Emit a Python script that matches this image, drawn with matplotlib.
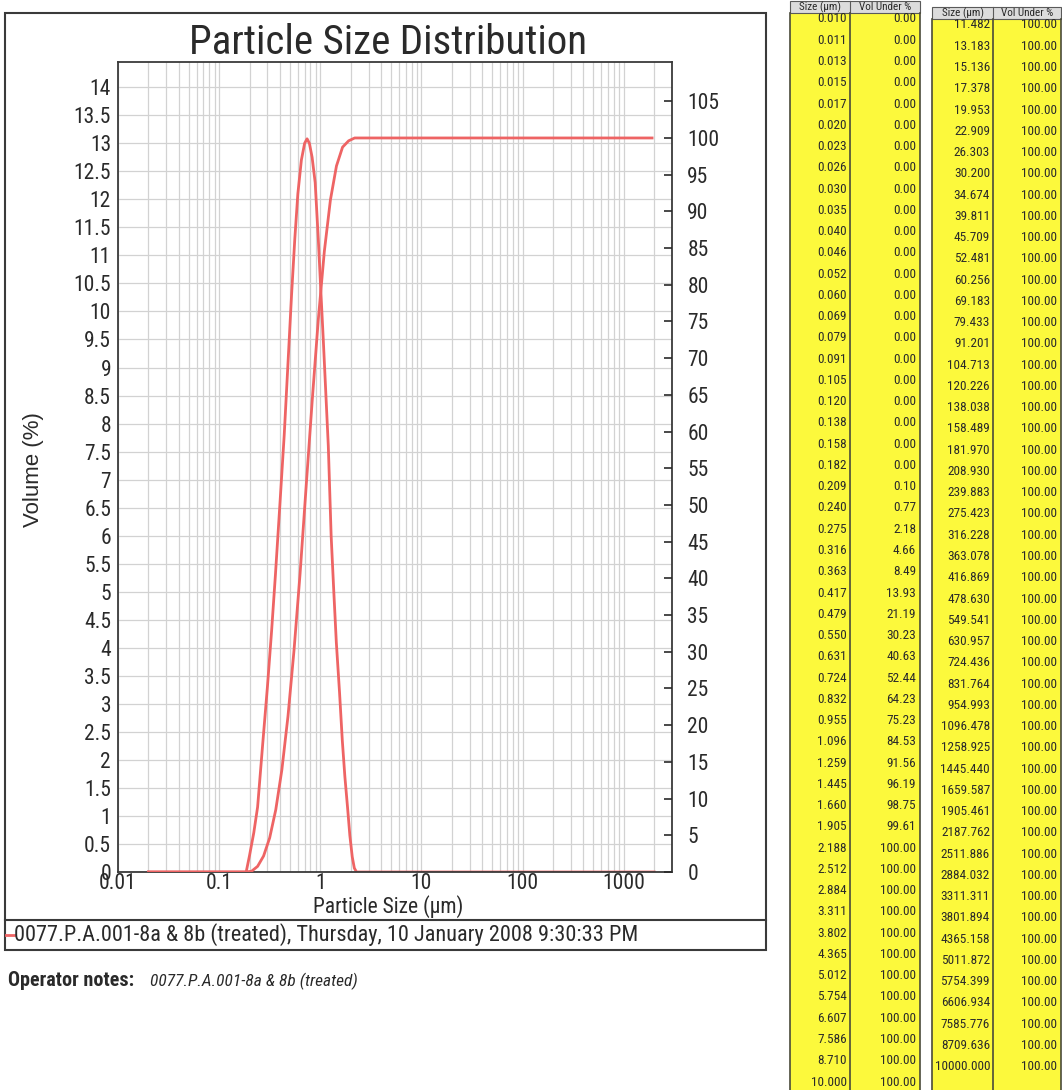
import matplotlib
matplotlib.use('Agg')
import matplotlib.pyplot as plt
from matplotlib import font_manager
from matplotlib.font_manager import FontProperties
from matplotlib.patches import Rectangle
from matplotlib.lines import Line2D
from matplotlib.ticker import FixedLocator, LogLocator, NullFormatter
import numpy as np

# ---------------- data ----------------
table1_sizes = [0.010, 0.011, 0.013, 0.015, 0.017, 0.020, 0.023, 0.026, 0.030, 0.035,
                0.040, 0.046, 0.052, 0.060, 0.069, 0.079, 0.091, 0.105, 0.120, 0.138,
                0.158, 0.182, 0.209, 0.240, 0.275, 0.316, 0.363, 0.417, 0.479, 0.550,
                0.631, 0.724, 0.832, 0.955, 1.096, 1.259, 1.445, 1.660, 1.905, 2.188,
                2.512, 2.884, 3.311, 3.802, 4.365, 5.012, 5.754, 6.607, 7.586, 8.710,
                10.000]
table1_vol_under = [0.00] * 22 + [0.10, 0.77, 2.18, 4.66, 8.49, 13.93, 21.19, 30.23,
                                  40.63, 52.44, 64.23, 75.23, 84.53, 91.56, 96.19,
                                  98.75, 99.61] + [100.00] * 12
table2_sizes = [11.482, 13.183, 15.136, 17.378, 19.953, 22.909, 26.303, 30.200, 34.674,
                39.811, 45.709, 52.481, 60.256, 69.183, 79.433, 91.201, 104.713, 120.226,
                138.038, 158.489, 181.970, 208.930, 239.883, 275.423, 316.228, 363.078,
                416.869, 478.630, 549.541, 630.957, 724.436, 831.764, 954.993, 1096.478,
                1258.925, 1445.440, 1659.587, 1905.461, 2187.762, 2511.886, 2884.032,
                3311.311, 3801.894, 4365.158, 5011.872, 5754.399, 6606.934, 7585.776,
                8709.636, 10000.000]
table2_vol_under = [100.00] * 50

# frequency curve (Volume %)
freq_size = [0.02, 0.185, 0.20, 0.22, 0.24, 0.27, 0.30, 0.33, 0.36, 0.40, 0.44, 0.48,
             0.52, 0.56, 0.60, 0.65, 0.70, 0.74, 0.78, 0.83, 0.89, 0.955, 1.01, 1.07,
             1.13, 1.20, 1.28, 1.36, 1.44, 1.55, 1.65, 1.75, 1.86, 1.96, 2.07, 2.17,
             2.28, 2000]
freq_vol = [0, 0, 0.3, 0.7, 1.16, 2.3, 3.3, 4.3, 5.3, 6.6, 7.8, 9.1,
            10.3, 11.3, 12.1, 12.7, 13.0, 13.08, 13.0, 12.75, 12.3, 11.3, 10.4, 9.5,
            8.6, 7.6, 6.0, 5.0, 4.1, 3.2, 2.35, 1.7, 1.15, 0.65, 0.27, 0.07,
            0, 0]

plot_range = (0.019, 2000)

x_ticks = [0.01, 0.1, 1, 10, 100, 1000]
x_tick_labels = ['0.01', '0.1', '1', '10', '100', '1000']
left_ticks = [i * 0.5 for i in range(29)]
left_tick_labels = [('%g' % v) for v in left_ticks]
right_ticks = list(range(0, 110, 5))
right_tick_labels = [str(v) for v in right_ticks]

title = 'Particle Size Distribution'
xlabel = 'Particle Size (µm)'
ylabel = 'Volume (%)'
legend_text = '0077.P.A.001-8a & 8b (treated), Thursday, 10 January 2008 9:30:33 PM'
notes_label = 'Operator notes:'
notes_text = '0077.P.A.001-8a & 8b (treated)'
col_headers = ['Size (µm)', 'Vol Under %']

# ---------------- fonts ----------------
plt.rcParams['font.family'] = ['Liberation Sans', 'DejaVu Sans']


def _w(e):
    w = e.weight
    if isinstance(w, str):
        w = font_manager.weight_dict.get(w, 400)
    return w


def pick_narrow():
    entries = font_manager.fontManager.ttflist
    prefs = ['Liberation Sans Narrow', 'Arial Narrow', 'Roboto Condensed',
             'Open Sans Condensed', 'Noto Sans Condensed', 'DejaVu Sans Condensed']
    for p in prefs:
        found = [e for e in entries if e.name == p]
        if found:
            return found
    for fam in ['Liberation Sans', 'Roboto', 'Noto Sans', 'Open Sans', 'DejaVu Sans']:
        found = [e for e in entries if e.name == fam and
                 str(e.stretch) in ('condensed', 'semi-condensed', '75', '87.5', 'narrow')]
        if found:
            return found
    return None


narrow = pick_narrow()


def fprops(size, bold=False, italic=False):
    if narrow:
        def score(e):
            s = abs(_w(e) - (700 if bold else 400)) / 100.0
            s += 0 if ((e.style != 'normal') == italic) else 5
            return s
        best = min(narrow, key=score)
        return FontProperties(fname=best.fname, size=size)
    return FontProperties(family='Liberation Sans', size=size * 0.84,
                          weight='bold' if bold else 'normal',
                          style='italic' if italic else 'normal')


RED = '#EE6464'
GRID = '#d2d2d2'
YELLOW = '#FCF93C'
TXT = '#2a2a2a'

W, H = 1062, 1090
fig = plt.figure(figsize=(W / 100, H / 100), dpi=100)
fig.patch.set_facecolor('white')


def fx(x):
    return x / W


def fy(y):
    return 1 - y / H


# ---------------- chart ----------------
ax = fig.add_axes([fx(118), fy(872), fx(672) - fx(118), fy(62) - fy(872)])
ax.set_xscale('log')
ax.set_xlim(0.01, 3000)
ax.set_ylim(0, 14.45)
ax.xaxis.set_major_locator(FixedLocator(x_ticks))
ax.set_xticklabels(x_tick_labels)
ax.xaxis.set_minor_locator(LogLocator(base=10, subs=np.arange(2, 10)))
ax.xaxis.set_minor_formatter(NullFormatter())
ax.set_yticks(left_ticks)
ax.set_yticklabels(left_tick_labels)
ax.grid(which='both', axis='x', color=GRID, lw=0.9)
ax.grid(which='major', axis='y', color=GRID, lw=0.9)
ax.set_axisbelow(True)
ax.tick_params(axis='both', which='both', length=0, colors=TXT)
ax.tick_params(axis='y', pad=5)
ax.tick_params(axis='x', pad=0.5)
tick_fp = fprops(15.5)
for lbl in ax.get_xticklabels() + ax.get_yticklabels():
    lbl.set_fontproperties(tick_fp)
for s in ax.spines.values():
    s.set_color('#3a3a3a')
    s.set_linewidth(1.3)

ax.plot(freq_size, freq_vol, color=RED, lw=2.0, solid_joinstyle='round')

ax2 = ax.twinx()
ax2.set_ylim(0, 110.35)
ax2.set_yticks(right_ticks)
ax2.set_yticklabels(right_tick_labels)
ax2.tick_params(axis='y', direction='in', length=6, width=1.2, pad=11, colors=TXT)
for lbl in ax2.get_yticklabels():
    lbl.set_fontproperties(tick_fp)
for s in ax2.spines.values():
    s.set_visible(False)

all_sizes = np.array(table1_sizes + table2_sizes)
all_vols = np.array(table1_vol_under + table2_vol_under)
mask = (all_sizes >= plot_range[0]) & (all_sizes <= plot_range[1])
ax2.plot(all_sizes[mask], all_vols[mask], color=RED, lw=2.0, solid_joinstyle='round')

fig.text(fx(388), fy(43), title, ha='center', va='center', fontproperties=fprops(29.5),
         color=TXT)
fig.text(fx(388), fy(907), xlabel, ha='center', va='center', fontproperties=fprops(15.5),
         color=TXT)
fig.text(fx(33), fy(470), ylabel, ha='center', va='center', rotation=90,
         fontproperties=FontProperties(family='Liberation Sans', size=16), color=TXT)

# frame and legend
fig.patches.append(Rectangle((fx(5), fy(950)), fx(766) - fx(5), fy(13) - fy(950),
                             transform=fig.transFigure, fill=False, edgecolor='#3a3a3a',
                             lw=1.5))
fig.lines.append(Line2D([fx(5), fx(766)], [fy(920), fy(920)], transform=fig.transFigure,
                        color='#3a3a3a', lw=1.5))
fig.lines.append(Line2D([fx(6), fx(14)], [fy(935), fy(935)], transform=fig.transFigure,
                        color=RED, lw=2.0))
fig.text(fx(14), fy(935), legend_text, ha='left', va='center', fontproperties=fprops(16),
         color=TXT)

fig.text(fx(8), fy(981), notes_label, ha='left', va='center',
         fontproperties=fprops(14.5, bold=True), color=TXT)
fig.text(fx(150), fy(981), notes_text, ha='left', va='center',
         fontproperties=fprops(12.5, italic=True), color=TXT)

# ---------------- tables ----------------
ROW_H = 21.26
num_fp = fprops(9.5)
head_fp = fprops(8)


def draw_table(x0, xdiv, x1, header_top, first_center, sizes, vols):
    header_h = 12
    body_top = header_top + header_h
    fig.patches.append(Rectangle((fx(x0), fy(H)), fx(x1) - fx(x0), fy(body_top) - fy(H),
                                 transform=fig.transFigure, facecolor=YELLOW,
                                 edgecolor='none'))
    fig.patches.append(Rectangle((fx(x0), fy(body_top)), fx(x1) - fx(x0),
                                 fy(header_top) - fy(body_top),
                                 transform=fig.transFigure, facecolor='#dcdcdc',
                                 edgecolor='#5a5a5a', lw=0.8))
    fig.lines.append(Line2D([fx(xdiv), fx(xdiv)], [fy(header_top), fy(body_top)],
                            transform=fig.transFigure, color='#5a5a5a', lw=0.8))
    for xv in (x0, xdiv, x1):
        fig.lines.append(Line2D([fx(xv), fx(xv)], [fy(body_top), fy(H)],
                                transform=fig.transFigure, color='#4a4a3a', lw=1.2))
    hc = header_top + header_h / 2
    fig.text(fx((x0 + xdiv) / 2), fy(hc), col_headers[0], ha='center', va='center',
             fontproperties=head_fp, color=TXT)
    fig.text(fx((xdiv + x1) / 2), fy(hc), col_headers[1], ha='center', va='center',
             fontproperties=head_fp, color=TXT)
    for i, (s, v) in enumerate(zip(sizes, vols)):
        yc = first_center + i * ROW_H
        fig.text(fx(xdiv - 3), fy(yc), '%.3f' % s, ha='right', va='center',
                 fontproperties=num_fp, color=TXT)
        fig.text(fx(x1 - 4), fy(yc), '%.2f' % v, ha='right', va='center',
                 fontproperties=num_fp, color=TXT)


draw_table(790, 850, 920, 1, 19, table1_sizes, table1_vol_under)
draw_table(932, 993, 1061, 7, 25, table2_sizes, table2_vol_under)

fig.savefig('out.png', dpi=100, facecolor='white')
